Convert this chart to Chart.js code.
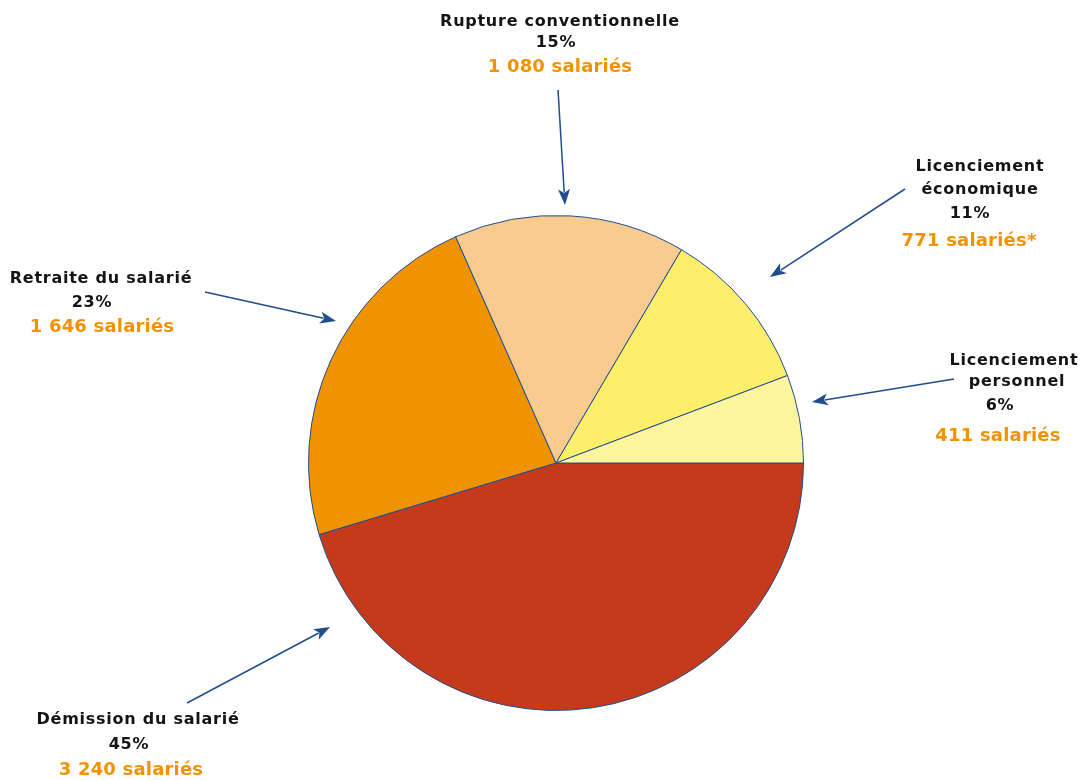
<!DOCTYPE html>
<html>
<head>
<meta charset="utf-8">
<script src="https://cdn.jsdelivr.net/npm/chart.js@4/dist/chart.umd.min.js"></script>
<style>
  html, body { margin: 0; padding: 0; background: #fff; }
</style>
</head>
<body>
<canvas id="pie" width="1081" height="780"></canvas>
<script>
// slices, clockwise from 3 o'clock
const categories = [
    ['Démission du salarié'],
    ['Retraite du salarié'],
    ['Rupture conventionnelle'],
    ['Licenciement', 'économique'],
    ['Licenciement', 'personnel']
];
const employees = [3240, 1646, 1080, 771, 411];
const countSuffix = [' salariés', ' salariés', ' salariés', ' salariés*', ' salariés'];
const sliceColors = ['#C43A1B', '#F09300', '#F9CB8F', '#FDEF6A', '#FEF59D'];

const total = employees.reduce((a, b) => a + b, 0);

function frNumber(n) {
    return String(n).replace(/\B(?=(\d{3})+(?!\d))/g, ' ');
}

// label blocks and arrows, offsets from the pie centre
const callouts = [
    { lines: [[-418, 257], [-427, 282]], count: [-425, 307], from: [-369, 240], to: [-226, 164] },
    { lines: [[-455, -184], [-464, -160]], count: [-454, -136], from: [-351, -171], to: [-220, -142] },
    { lines: [[4, -441]], pct: [0, -420], count: [4, -396], from: [2, -373], to: [9, -258] },
    { lines: [[424, -296], [424, -273]], pct: [414, -249], count: [413, -222], from: [349, -274], to: [214, -186] },
    { lines: [[458, -102], [461, -81]], pct: [444, -57], count: [442, -27], from: [398, -84], to: [256, -61] }
];

const calloutPlugin = {
    id: 'callouts',
    afterDraw(chart) {
        const ctx = chart.ctx;
        const arc = chart.getDatasetMeta(0).data[0];
        const cx = arc.x, cy = arc.y;
        ctx.save();
        ctx.textAlign = 'center';
        ctx.textBaseline = 'middle';
        callouts.forEach((c, i) => {
            const lines = categories[i];
            ctx.fillStyle = '#141414';
            ctx.font = 'bold 16px "DejaVu Sans"';
            ctx.letterSpacing = '0.75px';
            lines.forEach((t, j) => {
                ctx.fillText(t, cx + c.lines[j][0], cy + c.lines[j][1]);
            });
            const pct = Math.round(employees[i] / total * 100) + '%';
            const pPos = c.pct || c.lines[lines.length];
            ctx.fillText(pct, cx + pPos[0], cy + pPos[1]);

            ctx.fillStyle = '#F39200';
            ctx.font = 'bold 18px "DejaVu Sans"';
            ctx.letterSpacing = '0.2px';
            ctx.fillText(frNumber(employees[i]) + countSuffix[i], cx + c.count[0], cy + c.count[1]);

            // arrow
            const x1 = cx + c.from[0], y1 = cy + c.from[1];
            const x2 = cx + c.to[0], y2 = cy + c.to[1];
            const ang = Math.atan2(y2 - y1, x2 - x1);
            const head = 16, half = 6;
            ctx.strokeStyle = '#1F4E8C';
            ctx.fillStyle = '#1F4E8C';
            ctx.lineWidth = 1.5;
            ctx.beginPath();
            ctx.moveTo(x1, y1);
            ctx.lineTo(x2 - Math.cos(ang) * head * 0.8, y2 - Math.sin(ang) * head * 0.8);
            ctx.stroke();
            ctx.beginPath();
            ctx.moveTo(x2, y2);
            ctx.lineTo(x2 - Math.cos(ang) * head - Math.sin(ang) * half, y2 - Math.sin(ang) * head + Math.cos(ang) * half);
            ctx.lineTo(x2 - Math.cos(ang) * head * 0.75, y2 - Math.sin(ang) * head * 0.75);
            ctx.lineTo(x2 - Math.cos(ang) * head + Math.sin(ang) * half, y2 - Math.sin(ang) * head - Math.cos(ang) * half);
            ctx.closePath();
            ctx.fill();
        });
        ctx.restore();
    }
};

new Chart(document.getElementById('pie'), {
    type: 'pie',
    data: {
        labels: categories.map(l => l.join(' ')),
        datasets: [{
            data: employees,
            backgroundColor: sliceColors,
            borderColor: '#1F4E8C',
            borderWidth: 1
        }]
    },
    options: {
        responsive: false,
        animation: false,
        rotation: 90,
        layout: { padding: { left: 31, right: 0, top: 215, bottom: 69 } },
        plugins: {
            legend: { display: false },
            tooltip: { enabled: false }
        }
    },
    plugins: [calloutPlugin]
});
</script>
</body>
</html>
